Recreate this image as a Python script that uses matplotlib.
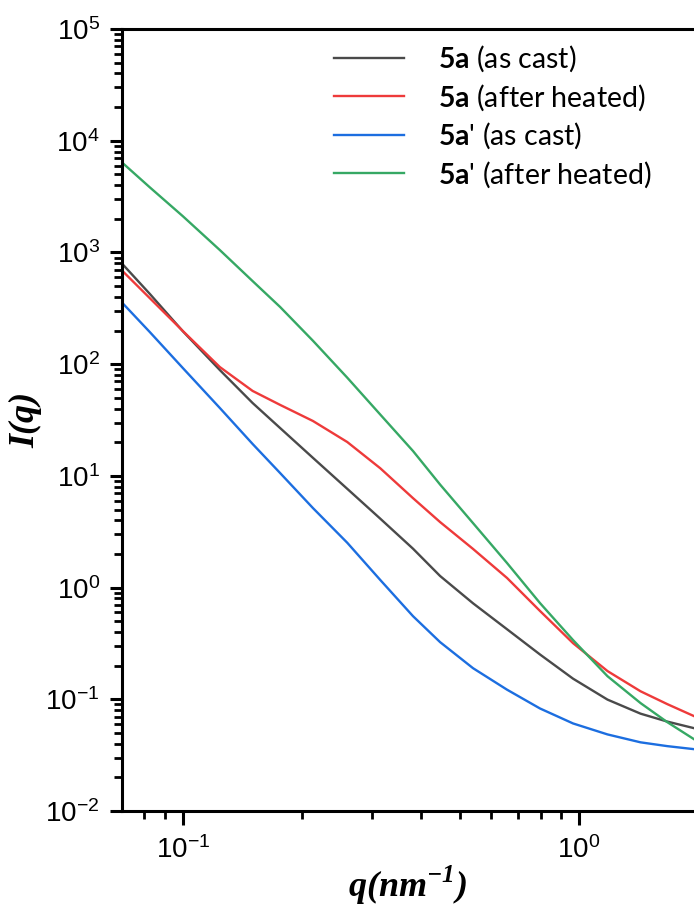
import numpy as np
import matplotlib
matplotlib.use("Agg")
import matplotlib.pyplot as plt
from matplotlib.ticker import LogLocator, NullFormatter

plt.rcParams['mathtext.fontset'] = 'custom'
plt.rcParams['mathtext.rm'] = 'Liberation Sans'
plt.rcParams['mathtext.bf'] = 'Lato:bold'

# q values (nm^-1)
q = [0.070, 0.0825, 0.100, 0.124, 0.150, 0.176, 0.213, 0.260, 0.315, 0.381,
     0.446, 0.540, 0.658, 0.797, 0.966, 1.18, 1.43, 1.67, 1.95]

# intensities
I_5a_cast = [804, 426, 197, 88.5, 44.9, 26.8, 14.5, 7.66, 4.14, 2.23,
             1.27, 0.724, 0.424, 0.252, 0.153, 0.0994, 0.0744, 0.0632, 0.0552]
I_5a_heat = [696, 390, 198, 94.2, 57.6, 43.2, 31.0, 20.1, 11.7, 6.32,
             3.86, 2.22, 1.22, 0.618, 0.318, 0.179, 0.118, 0.0906, 0.0708]
I_5ap_cast = [360, 194, 92.3, 40.5, 19.3, 10.6, 5.15, 2.52, 1.17, 0.555,
              0.325, 0.190, 0.122, 0.0828, 0.0608, 0.0485, 0.0412, 0.0381, 0.0358]
I_5ap_heat = [6450, 3830, 2110, 1050, 554, 325, 162, 75.7, 35.4, 16.7,
              8.36, 3.78, 1.66, 0.727, 0.339, 0.161, 0.0925, 0.0625, 0.0440]

labels = [r'$\mathbf{5a}$ (as cast)', r'$\mathbf{5a}$ (after heated)',
          r"$\mathbf{5a}$' (as cast)", r"$\mathbf{5a}$' (after heated)"]
colors = ['#4a4a4a', '#ee3a3a', '#1c6ee0', '#36a864']
series = [I_5a_cast, I_5a_heat, I_5ap_cast, I_5ap_heat]

yticks = [1e-2, 1e-1, 1e0, 1e1, 1e2, 1e3, 1e4, 1e5]
xticks = [0.1, 1.0]

fig = plt.figure(figsize=(6.94, 9.16), dpi=100)
ax = fig.add_axes([0.1758, 0.1146, 0.8242, 0.8537])

for y, c, lab in zip(series, colors, labels):
    ax.plot(q, y, color=c, lw=1.7, label=lab)

ax.set_xscale('log')
ax.set_yscale('log')
ax.set_xticks(xticks)
ax.set_yticks(yticks)
ax.set_xlim(0.0702, 1.951)
ax.set_ylim(1e-2, 1e5)

ax.spines['right'].set_visible(False)
for s in ['left', 'bottom', 'top']:
    ax.spines[s].set_linewidth(2.2)

ax.yaxis.set_minor_locator(LogLocator(base=10, subs=np.arange(2, 10), numticks=20))
ax.xaxis.set_minor_locator(LogLocator(base=10, subs=np.arange(2, 10), numticks=20))
ax.xaxis.set_minor_formatter(NullFormatter())
ax.yaxis.set_minor_formatter(NullFormatter())

ax.tick_params(which='major', direction='out', length=9, width=2.2, labelsize=20, pad=7)
ax.tick_params(which='minor', direction='out', length=5.5, width=2.0)
ax.tick_params(axis='x', which='major', length=10, pad=8)
ax.tick_params(top=False, right=False, which='both')
for t in ax.get_xticklabels() + ax.get_yticklabels():
    t.set_fontfamily('Liberation Sans')

ax.set_ylabel('I(q)', fontfamily='Liberation Serif', fontweight='bold',
              fontstyle='italic', fontsize=26, labelpad=2)
ax.set_xlabel(r'q(nm$^{\mathdefault{-1}}$)', fontfamily='Liberation Serif',
              fontweight='bold', fontstyle='italic', fontsize=26, labelpad=0)

leg = ax.legend(loc='upper left', bbox_to_anchor=(0.336, 1.007), frameon=False,
                prop={'family': 'Lato', 'size': 20.5}, handlelength=2.45,
                handletextpad=1.2, labelspacing=0.28, borderpad=0.2)

fig.savefig('out.png', dpi=100)
